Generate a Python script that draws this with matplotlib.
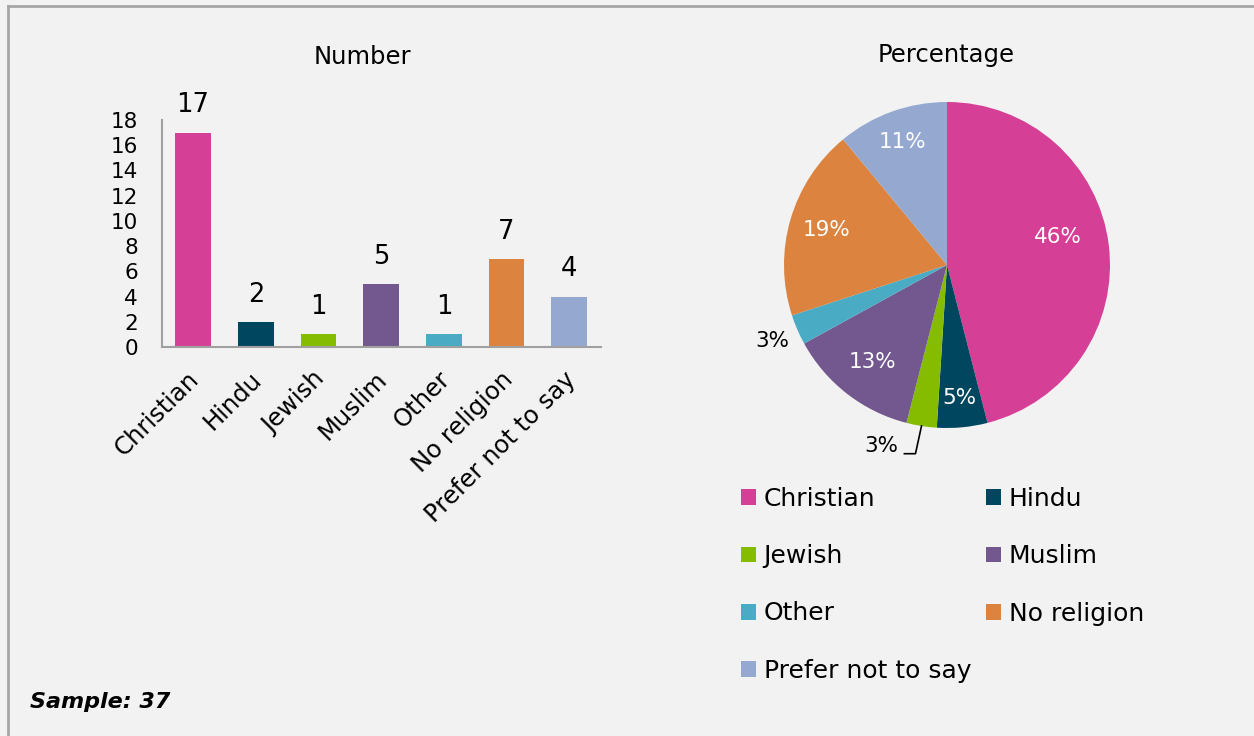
import numpy as np
import matplotlib.pyplot as plt
from matplotlib.lines import Line2D
from matplotlib.patches import Patch
from matplotlib.transforms import ScaledTranslation

# Religion breakdown of respondents
categories = ["Christian", "Hindu", "Jewish", "Muslim", "Other", "No religion", "Prefer not to say"]
counts = [17, 2, 1, 5, 1, 7, 4]
percentages = [46, 5, 3, 13, 3, 19, 11]
colors = ["#d63f96", "#00465e", "#86bc00", "#72588e", "#4aabc5", "#dc843f", "#95a9d0"]
y_ticks = [0, 2, 4, 6, 8, 10, 12, 14, 16, 18]
sample_size = 37

bg = "#f2f2f2"
plt.rcParams["font.family"] = ["DejaVu Sans"]

fig = plt.figure(figsize=(12.54, 7.36), dpi=100)
fig.patch.set_facecolor(bg)

# frame lines along the top and left edge
fig.add_artist(Line2D([0.0065, 0.0065], [0, 0.992], transform=fig.transFigure,
                      color="#a6a6a6", lw=2))
fig.add_artist(Line2D([0.0065, 1.0], [0.992, 0.992], transform=fig.transFigure,
                      color="#a6a6a6", lw=2))

# --- bar chart of counts ---
ax = fig.add_axes([0.129, 0.5285, 0.350, 0.3085])
ax.set_facecolor(bg)
x = list(range(len(categories)))
bars = ax.bar(x, counts, width=0.57, color=colors)
for b, v in zip(bars, counts):
    ax.annotate(str(v), (b.get_x() + b.get_width() / 2, v), xytext=(0, 14.5),
                textcoords="offset points", ha="center", va="baseline", fontsize=18.5)
ax.set_xlim(-0.5, len(categories) - 0.5)
ax.set_ylim(0, 18)
ax.set_yticks(y_ticks)
ax.tick_params(axis="y", length=0, labelsize=15.5, pad=17)
ax.tick_params(axis="x", length=0, labelsize=17.5, pad=8)
ax.set_xticks(x)
ax.set_xticklabels(categories, rotation=45, ha="right", rotation_mode="anchor")
shift = ScaledTranslation(-0.06, -0.09, fig.dpi_scale_trans)
for lbl in ax.get_xticklabels():
    lbl.set_transform(lbl.get_transform() + shift)
for s in ["top", "right"]:
    ax.spines[s].set_visible(False)
for s in ["left", "bottom"]:
    ax.spines[s].set_color("#a0a0a0")
    ax.spines[s].set_linewidth(1.5)
fig.text(362 / 1254, 1 - 57 / 736, "Number", ha="center", va="center", fontsize=17.5)

# --- pie chart of shares ---
pax = fig.add_axes([784 / 1254, 1 - 428 / 736, 326 / 1254, 326 / 736])
wedges, _ = pax.pie(percentages, colors=colors, startangle=90, counterclock=False,
                    wedgeprops=dict(linewidth=0))
pax.set_xlim(-1, 1)
pax.set_ylim(-1, 1)
pax.set_aspect("equal")
fig.text(946 / 1254, 1 - 55 / 736, "Percentage", ha="center", va="center", fontsize=17.5)

# label radius per slice (None = outside label handled separately)
label_r = [0.7, 0.82, None, 0.75, 1.17, 0.77, 0.8]
angle = 90.0
for i, p in enumerate(percentages):
    sweep = 360.0 * p / sum(percentages)
    mid = np.deg2rad(angle - sweep / 2)
    angle -= sweep
    txt = f"{p}%"
    r = label_r[i]
    if i == 0:
        mid += np.deg2rad(7)
    if r is None:
        # thin slice labelled below with a leader line
        ex, ey = np.cos(mid), np.sin(mid)
        pax.plot([ex, ex - 0.037, ex - 0.105], [ey, ey - 0.17, ey - 0.17],
                 color="black", lw=1.2, clip_on=False)
        pax.text(ex - 0.14, ey - 0.12, txt, ha="right", va="center", fontsize=15.5,
                 clip_on=False)
    elif r > 1:
        pax.text(r * np.cos(mid), r * np.sin(mid), txt, ha="center", va="center",
                 fontsize=15.5, clip_on=False)
    else:
        pax.text(r * np.cos(mid), r * np.sin(mid), txt, ha="center", va="center",
                 color="white", fontsize=15.5)

# legend filled row by row across two columns
order = [0, 2, 4, 6, 1, 3, 5]
handles = [Patch(facecolor=colors[i], edgecolor="none") for i in order]
labels = [categories[i] for i in order]
fig.legend(handles, labels, loc="upper left", bbox_to_anchor=(0.591, 1 - 487 / 736),
           ncol=2, frameon=False, fontsize=18, handlelength=0.6, handleheight=0.6,
           handletextpad=0.3, columnspacing=0.6, labelspacing=1.33,
           borderpad=0, borderaxespad=0)

fig.text(30 / 1254, 1 - 702 / 736, f"Sample: {sample_size}", fontsize=16,
         fontweight="bold", fontstyle="italic", ha="left", va="center")

fig.savefig("out.png", dpi=100, facecolor=bg)
